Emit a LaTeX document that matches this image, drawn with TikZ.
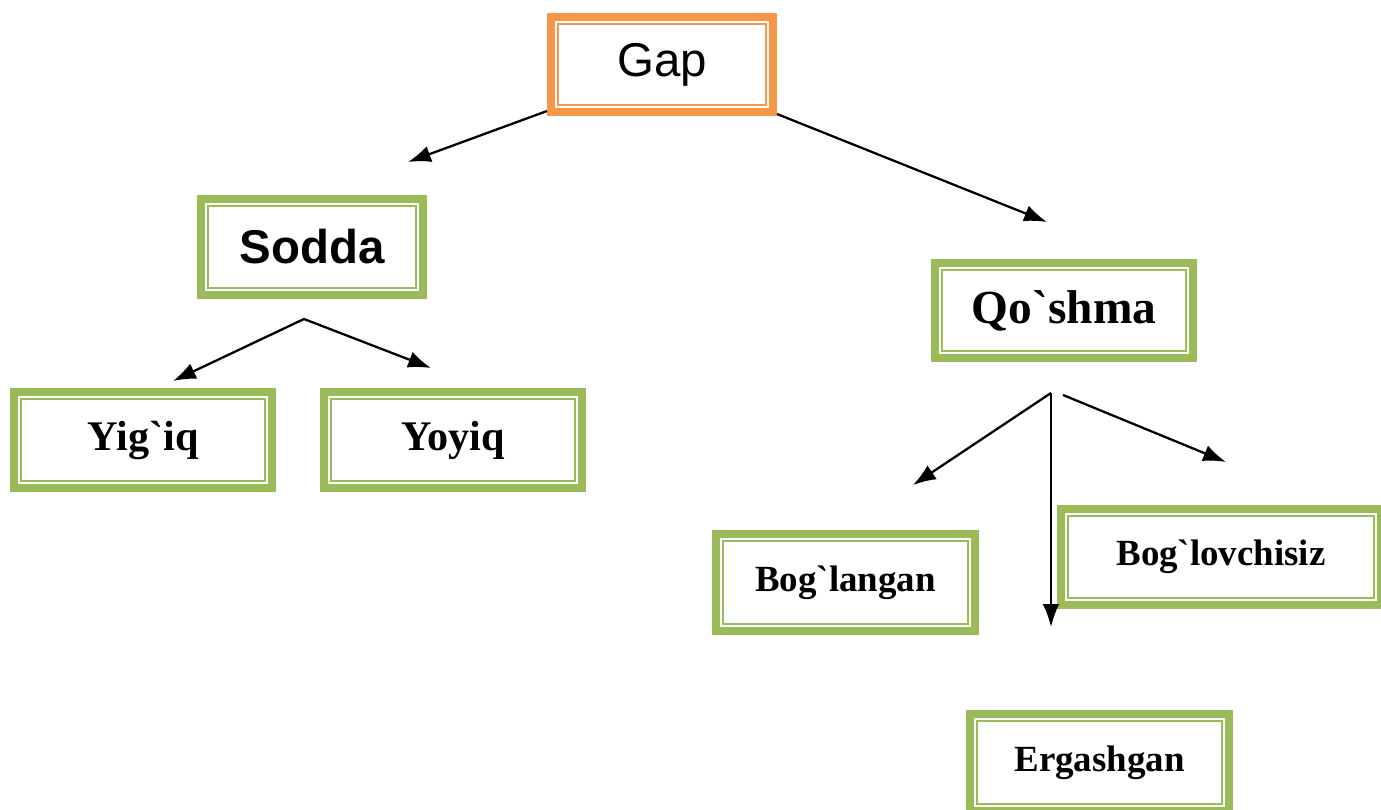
\documentclass[tikz,border=0pt]{standalone}
\usepackage{fontspec}
\usetikzlibrary{arrows.meta}
\newfontfamily\arialfont{Liberation Sans}
\newfontfamily\timesfont{Liberation Serif}
\definecolor{boxorange}{HTML}{F79646}
\definecolor{boxgreen}{HTML}{9BBB59}
\tikzset{
	frame/.style={draw=#1, line width=4.5pt, outer sep=0pt, inner sep=0pt, fill=white},
	inframe/.style={draw=#1, line width=1.2pt},
	arr/.style={-{Latex[length=13pt,width=9.5pt]}, line width=1.3pt},
	bigtimes/.style={font=\timesfont\bfseries\fontsize{24}{28}\selectfont},
	smalltimes/.style={font=\timesfont\bfseries\fontsize{21}{25}\selectfont}
}
\begin{document}
\begin{tikzpicture}[x=0.02cm, y=-0.02cm]
	\useasboundingbox (0,0) rectangle (1381,809);
	% boxes
	\node[frame=boxorange, minimum width=4.6cm-4.5pt, minimum height=2.06cm-4.5pt, font=\arialfont\fontsize{27}{32}\selectfont] (gap) at (662,64.5) {Gap};
	\node[frame=boxgreen, minimum width=4.6cm-4.5pt, minimum height=2.08cm-4.5pt, font=\arialfont\bfseries\fontsize{27}{32}\selectfont] (sodda) at (312,247) {Sodda};
	\node[frame=boxgreen, minimum width=5.32cm-4.5pt, minimum height=2.06cm-4.5pt, font=\timesfont\bfseries\fontsize{27}{32}\selectfont] (qoshma) at (1064,310.5) {Qo`shma};
	\node[frame=boxgreen, minimum width=5.32cm-4.5pt, minimum height=2.08cm-4.5pt, bigtimes] (yigiq) at (143,440) {Yig`iq};
	\node[frame=boxgreen, minimum width=5.32cm-4.5pt, minimum height=2.08cm-4.5pt, bigtimes] (yoyiq) at (453,440) {Yoyiq};
	\node[frame=boxgreen, minimum width=5.34cm-4.5pt, minimum height=2.1cm-4.5pt, smalltimes] (boglangan) at (845.5,582.5) {Bog`langan};
	\node[frame=boxgreen, minimum width=6.56cm-4.5pt, minimum height=2.08cm-4.5pt, smalltimes] (boglovchisiz) at (1221,557) {Bog`lovchisiz};
	\node[frame=boxgreen, minimum width=5.34cm-4.5pt, minimum height=2.1cm-4.5pt, smalltimes] (ergashgan) at (1099.5,762.5) {Ergashgan};
	% inner lines
	\draw[inframe=boxorange] ([shift={(4.2pt,4.2pt)}]gap.south west) rectangle ([shift={(-4.2pt,-4.2pt)}]gap.north east);
	\foreach \n in {sodda,qoshma,yigiq,yoyiq,boglangan,boglovchisiz,ergashgan}
		\draw[inframe=boxgreen] ([shift={(4.2pt,4.2pt)}]\n.south west) rectangle ([shift={(-4.2pt,-4.2pt)}]\n.north east);
	% arrow ends
	\coordinate (gapL) at (547,111);
	\coordinate (soddaT) at (408,162);
	\coordinate (gapR) at (777,114);
	\coordinate (qoshmaT) at (1047,222);
	\coordinate (soddaB) at (304,319);
	\coordinate (yigiqT) at (173,381);
	\coordinate (yoyiqT) at (431,368);
	\coordinate (qoshmaB) at (1051,393);
	\coordinate (qoshmaB2) at (1063,395);
	\coordinate (boglanganT) at (913,485);
	\coordinate (ergashganT) at (1051,627);
	\coordinate (boglovchisizT) at (1226,462);
	% arrows
	\draw[arr] (gapL) -- (soddaT);
	\draw[arr] (gapR) -- (qoshmaT);
	\draw[arr] (soddaB) -- (yigiqT);
	\draw[arr] (soddaB) -- (yoyiqT);
	\draw[arr] (qoshmaB) -- (boglanganT);
	\draw[arr] (qoshmaB) -- (ergashganT);
	\draw[arr] (qoshmaB2) -- (boglovchisizT);
\end{tikzpicture}
\end{document}
